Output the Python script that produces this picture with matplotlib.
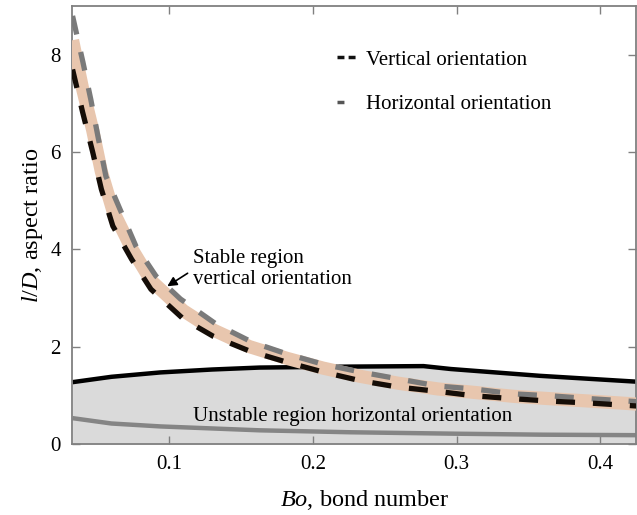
import matplotlib
matplotlib.use("Agg")
import matplotlib.pyplot as plt
from matplotlib.lines import Line2D

plt.rcParams['font.family'] = ['Liberation Serif', 'DejaVu Serif']
plt.rcParams['mathtext.fontset'] = 'custom'
plt.rcParams['mathtext.rm'] = 'Liberation Serif'
plt.rcParams['mathtext.it'] = 'Liberation Serif:italic'

# vertical orientation (black dashed)
bo_vert = [0.033, 0.040, 0.047, 0.053, 0.061, 0.074, 0.0875, 0.110, 0.131, 0.156,
           0.182, 0.207, 0.233, 0.259, 0.287, 0.312, 0.339, 0.365, 0.393, 0.425]
ar_vert = [7.70, 6.82, 6.00, 5.24, 4.48, 3.80, 3.18, 2.57, 2.21, 1.91,
           1.68, 1.48, 1.30, 1.17, 1.08, 0.99, 0.93, 0.88, 0.84, 0.78]

# horizontal orientation (grey dashed)
bo_horiz = [0.033, 0.0402, 0.0457, 0.0506, 0.0562, 0.0659, 0.077, 0.091, 0.108, 0.133,
            0.158, 0.182, 0.207, 0.233, 0.259, 0.287, 0.312, 0.339, 0.365, 0.393, 0.425]
ar_horiz = [8.80, 7.85, 7.08, 6.33, 5.50, 4.83, 4.07, 3.45, 2.98, 2.46,
            2.09, 1.85, 1.64, 1.48, 1.34, 1.19, 1.13, 1.03, 0.99, 0.93, 0.87]

# stable region band
ar_band = [8.30, 7.30, 6.45, 5.60, 4.80, 4.02, 3.36, 2.74, 2.34, 2.00,
           1.76, 1.56, 1.39, 1.25, 1.13, 1.06, 0.98, 0.93, 0.88, 0.82]

# unstable region, horizontal orientation
bo_upper = [0.033, 0.06, 0.094, 0.13, 0.163, 0.226, 0.277, 0.296, 0.358, 0.425]
ar_upper = [1.27, 1.38, 1.47, 1.53, 1.57, 1.59, 1.60, 1.54, 1.40, 1.28]
bo_lower = [0.033, 0.06, 0.094, 0.163, 0.226, 0.30, 0.36, 0.425]
ar_lower = [0.53, 0.42, 0.36, 0.28, 0.24, 0.21, 0.19, 0.18]

xticks = [0.1, 0.2, 0.3, 0.4]
yticks = [0, 2, 4, 6, 8]

fig = plt.figure(figsize=(6.37, 5.15), dpi=100)
ax = fig.add_axes([0.113, 0.138, 0.885, 0.850])

ax.fill_between(bo_upper, 0, ar_upper, color='#dadada', lw=0, zorder=1)
ax.plot(bo_lower, ar_lower, color='#858585', lw=3.2, solid_capstyle='butt', zorder=2)
ax.plot(bo_upper, ar_upper, color='black', lw=3.2, solid_capstyle='butt', zorder=2)

ax.plot(bo_vert, ar_band, color='#e8c6ae', lw=9.5, solid_capstyle='butt', zorder=3)
ax.plot(bo_horiz, ar_horiz, color='#7a7a7a', lw=3.8, dashes=(3.6, 3.4), zorder=4)
ax.plot(bo_vert, ar_vert, color='#150d07', lw=3.8, dashes=(3.6, 3.4), zorder=5)

ax.text(0.228, 0.57, 'Unstable region horizontal orientation', ha='center', va='center',
        fontsize=15, zorder=6)
ax.annotate('', xy=(0.0972, 3.21), xytext=(0.1146, 3.54),
            arrowprops=dict(arrowstyle='-|>', color='black', lw=1.2, mutation_scale=14),
            zorder=6)
ax.text(0.1167, 3.59, 'Stable region\nvertical orientation', ha='left', va='center',
        fontsize=15, linespacing=1.15, zorder=6)

handles = [Line2D([], [], color='#111111', lw=2.5, dashes=(2.0, 1.2)),
           Line2D([], [], color='#555555', lw=2.5, dashes=(2.0, 10))]
ax.legend(handles, ['Vertical orientation', 'Horizontal orientation'],
          loc='upper left', bbox_to_anchor=(0.47, 0.90), frameon=False, fontsize=15,
          handlelength=1.0, handletextpad=0.4, labelspacing=1.2, borderpad=0,
          borderaxespad=0)

ax.set_xlim(0.0326, 0.4245)
ax.set_ylim(0, 9)
ax.set_xticks(xticks)
ax.set_xticklabels(['0.1', '0.2', '0.3', '0.4'])
ax.set_yticks(yticks)
ax.tick_params(direction='in', length=6, width=1, color='#808080', labelsize=15,
               top=True, right=True, pad=8)
for s in ax.spines.values():
    s.set_color('#808080')
    s.set_linewidth(1.3)

ax.set_xlabel('$\\mathit{Bo}$, bond number', fontsize=17.5)
ax.set_ylabel('$\\mathit{l/D}$, aspect ratio', fontsize=17.5, labelpad=4)
ax.xaxis.set_label_coords(0.519, -0.10)

fig.savefig('out.png', dpi=100)
